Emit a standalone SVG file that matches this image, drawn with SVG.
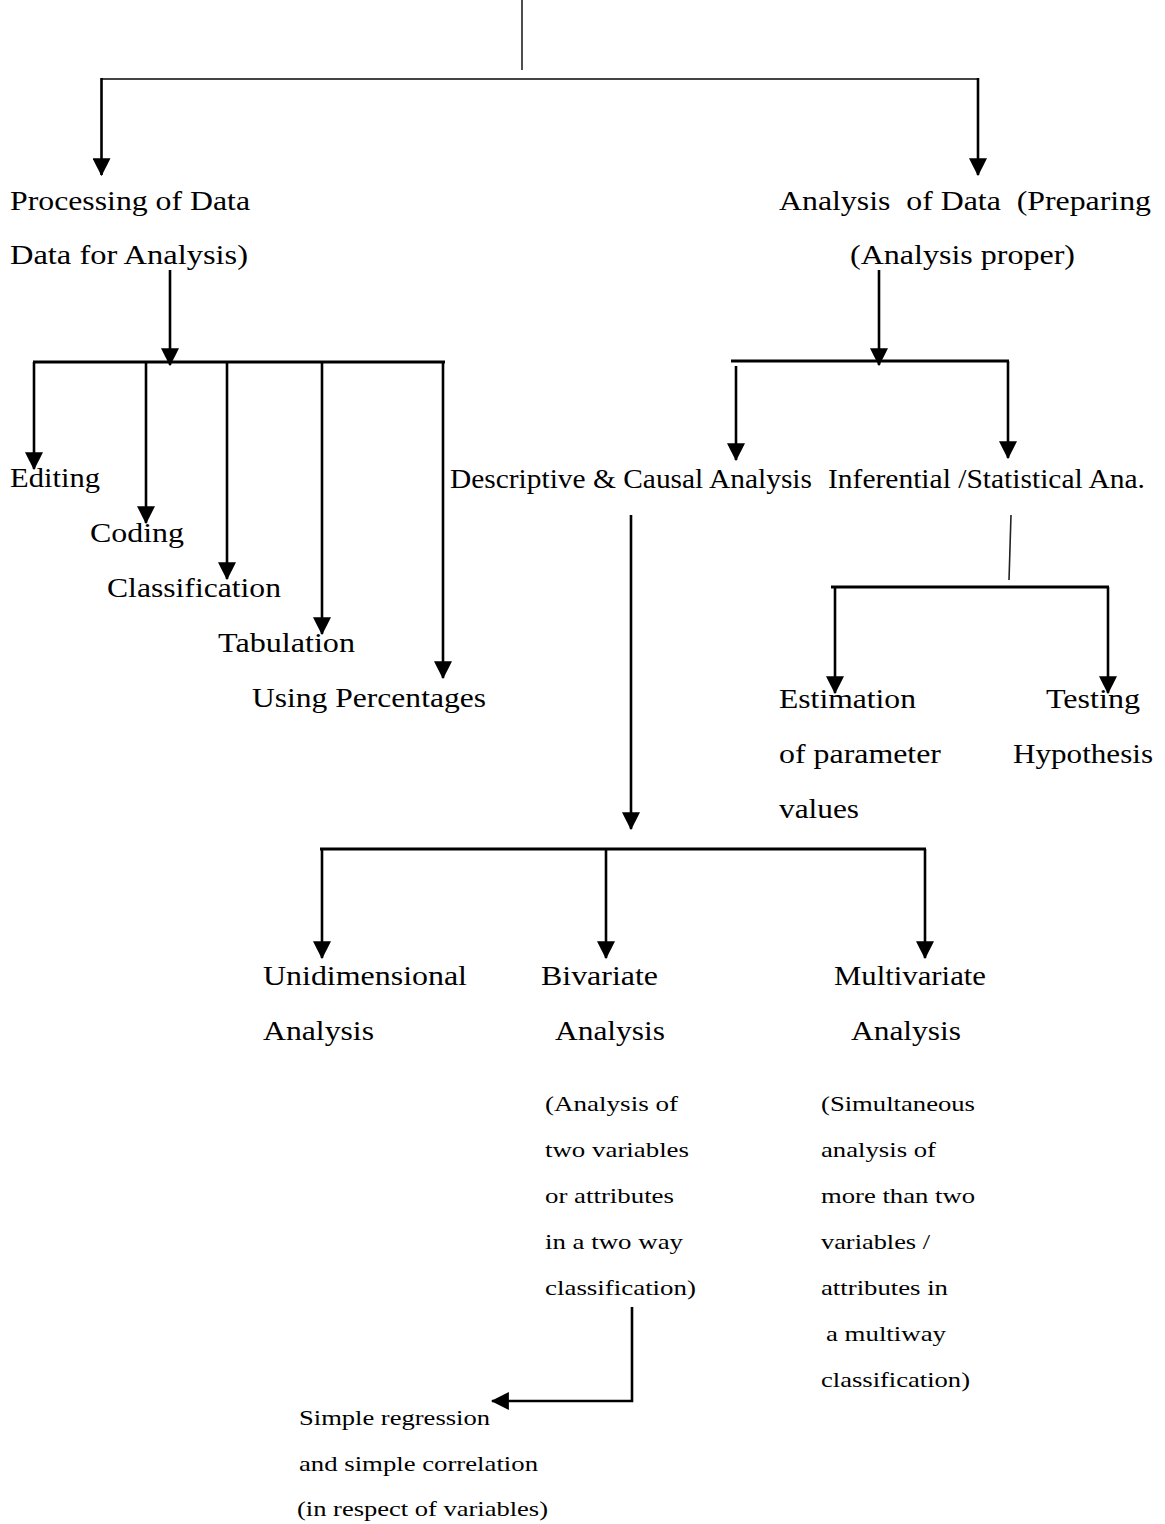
<svg xmlns="http://www.w3.org/2000/svg" width="1165" height="1524" viewBox="0 0 1165 1524">
  <style>
    text { fill: #000; white-space: pre; font-family: "Liberation Serif", "Times New Roman", serif; }
    .lbl { font-size: 27px; }
    .sm { font-size: 22px; }
    .ln { stroke: #000; stroke-width: 3; fill: none; }
    .thin { stroke: #222; stroke-width: 1.6; fill: none; }
    .arr { stroke: #000; stroke-width: 2.6; fill: none; marker-end: url(#head); }
  </style>
  <defs>
    <marker id="head" markerUnits="userSpaceOnUse" markerWidth="18" markerHeight="18" viewBox="0 0 16 16" refX="15" refY="8" orient="auto">
      <path d="M0,0 L16,8 L0,16 Z" fill="#000"/>
    </marker>
  </defs>
  <rect width="1165" height="1524" fill="#fff"/>

  <g id="connectors">
    <!-- root stem and first split -->
    <line class="thin" x1="522" y1="0" x2="522" y2="70"/>
    <line x1="101" y1="79" x2="978" y2="79" stroke="#444" stroke-width="2.2"/>
    <line class="arr" x1="101.5" y1="78" x2="101.5" y2="175"/>
    <line class="arr" x1="978" y1="78" x2="978" y2="175"/>

    <!-- processing branch -->
    <line class="arr" x1="170" y1="270" x2="170" y2="365"/>
    <line class="ln" x1="33" y1="362" x2="445" y2="362"/>
    <line class="arr" x1="34" y1="362" x2="34" y2="469"/>
    <line class="arr" x1="146" y1="362" x2="146" y2="523"/>
    <line class="arr" x1="227" y1="362" x2="227" y2="579"/>
    <line class="arr" x1="322" y1="362" x2="322" y2="634"/>
    <line class="arr" x1="443" y1="362" x2="443" y2="678"/>

    <!-- analysis branch -->
    <line class="arr" x1="879" y1="270" x2="879" y2="365"/>
    <line class="ln" x1="731" y1="361" x2="1009" y2="361"/>
    <line class="arr" x1="736" y1="366" x2="736" y2="460"/>
    <line class="arr" x1="1008" y1="361" x2="1008" y2="458"/>

    <!-- inferential split -->
    <line class="thin" x1="1011" y1="515" x2="1009" y2="580"/>
    <line class="ln" x1="831" y1="587" x2="1109" y2="587"/>
    <line class="arr" x1="835" y1="587" x2="835" y2="693"/>
    <line class="arr" x1="1108" y1="587" x2="1108" y2="693"/>

    <!-- descriptive split -->
    <line class="arr" x1="631" y1="515" x2="631" y2="829"/>
    <line class="ln" x1="320" y1="849" x2="926" y2="849"/>
    <line class="arr" x1="322" y1="849" x2="322" y2="958"/>
    <line class="arr" x1="606" y1="849" x2="606" y2="958"/>
    <line class="arr" x1="925" y1="849" x2="925" y2="958"/>

    <!-- bivariate to simple regression -->
    <polyline class="arr" points="632,1307 632,1401 492,1401"/>
  </g>

  <g id="node-processing">
    <text class="lbl" x="10" y="210" textLength="240" lengthAdjust="spacingAndGlyphs">Processing of Data</text>
    <text class="lbl" x="10" y="264" textLength="238" lengthAdjust="spacingAndGlyphs">Data for Analysis)</text>
  </g>
  <g id="node-analysis">
    <text class="lbl" x="779" y="210" textLength="372" lengthAdjust="spacingAndGlyphs">Analysis  of Data  (Preparing</text>
    <text class="lbl" x="850" y="264" textLength="225" lengthAdjust="spacingAndGlyphs">(Analysis proper)</text>
  </g>

  <g id="node-editing"><text class="lbl" x="10" y="487" textLength="90" lengthAdjust="spacingAndGlyphs">Editing</text></g>
  <g id="node-coding"><text class="lbl" x="90" y="542" textLength="94" lengthAdjust="spacingAndGlyphs">Coding</text></g>
  <g id="node-classification"><text class="lbl" x="107" y="597" textLength="174" lengthAdjust="spacingAndGlyphs">Classification</text></g>
  <g id="node-tabulation"><text class="lbl" x="218" y="652" textLength="137" lengthAdjust="spacingAndGlyphs">Tabulation</text></g>
  <g id="node-percentages"><text class="lbl" x="252" y="707" textLength="234" lengthAdjust="spacingAndGlyphs">Using Percentages</text></g>

  <g id="node-descriptive"><text class="lbl" x="450" y="488" textLength="362" lengthAdjust="spacingAndGlyphs">Descriptive &amp; Causal Analysis</text></g>
  <g id="node-inferential"><text class="lbl" x="828" y="488" textLength="317" lengthAdjust="spacingAndGlyphs">Inferential /Statistical Ana.</text></g>

  <g id="node-estimation">
    <text class="lbl" x="779" y="708" textLength="137" lengthAdjust="spacingAndGlyphs">Estimation</text>
    <text class="lbl" x="779" y="763" textLength="162" lengthAdjust="spacingAndGlyphs">of parameter</text>
    <text class="lbl" x="779" y="818" textLength="80" lengthAdjust="spacingAndGlyphs">values</text>
  </g>
  <g id="node-testing">
    <text class="lbl" x="1046" y="708" textLength="94" lengthAdjust="spacingAndGlyphs">Testing</text>
    <text class="lbl" x="1013" y="763" textLength="140" lengthAdjust="spacingAndGlyphs">Hypothesis</text>
  </g>

  <g id="node-unidimensional">
    <text class="lbl" x="263" y="985" textLength="204" lengthAdjust="spacingAndGlyphs">Unidimensional</text>
    <text class="lbl" x="263" y="1040" textLength="111" lengthAdjust="spacingAndGlyphs">Analysis</text>
  </g>
  <g id="node-bivariate">
    <text class="lbl" x="541" y="985" textLength="117" lengthAdjust="spacingAndGlyphs">Bivariate</text>
    <text class="lbl" x="555" y="1040" textLength="110" lengthAdjust="spacingAndGlyphs">Analysis</text>
    <text class="sm" x="545" y="1111" textLength="133" lengthAdjust="spacingAndGlyphs">(Analysis of</text>
    <text class="sm" x="545" y="1157" textLength="144" lengthAdjust="spacingAndGlyphs">two variables</text>
    <text class="sm" x="545" y="1203" textLength="129" lengthAdjust="spacingAndGlyphs">or attributes</text>
    <text class="sm" x="545" y="1249" textLength="138" lengthAdjust="spacingAndGlyphs">in a two way</text>
    <text class="sm" x="545" y="1295" textLength="151" lengthAdjust="spacingAndGlyphs">classification)</text>
  </g>
  <g id="node-multivariate">
    <text class="lbl" x="834" y="985" textLength="152" lengthAdjust="spacingAndGlyphs">Multivariate</text>
    <text class="lbl" x="851" y="1040" textLength="110" lengthAdjust="spacingAndGlyphs">Analysis</text>
    <text class="sm" x="821" y="1111" textLength="154" lengthAdjust="spacingAndGlyphs">(Simultaneous</text>
    <text class="sm" x="821" y="1157" textLength="115" lengthAdjust="spacingAndGlyphs">analysis of</text>
    <text class="sm" x="821" y="1203" textLength="154" lengthAdjust="spacingAndGlyphs">more than two</text>
    <text class="sm" x="821" y="1249" textLength="109" lengthAdjust="spacingAndGlyphs">variables /</text>
    <text class="sm" x="821" y="1295" textLength="127" lengthAdjust="spacingAndGlyphs">attributes in</text>
    <text class="sm" x="826" y="1341" textLength="120" lengthAdjust="spacingAndGlyphs">a multiway</text>
    <text class="sm" x="821" y="1387" textLength="149" lengthAdjust="spacingAndGlyphs">classification)</text>
  </g>
  <g id="node-simple-regression">
    <text class="sm" x="299" y="1425" textLength="191" lengthAdjust="spacingAndGlyphs">Simple regression</text>
    <text class="sm" x="299" y="1471" textLength="239" lengthAdjust="spacingAndGlyphs">and simple correlation</text>
    <text class="sm" x="297" y="1516" textLength="251" lengthAdjust="spacingAndGlyphs">(in respect of variables)</text>
  </g>
</svg>
